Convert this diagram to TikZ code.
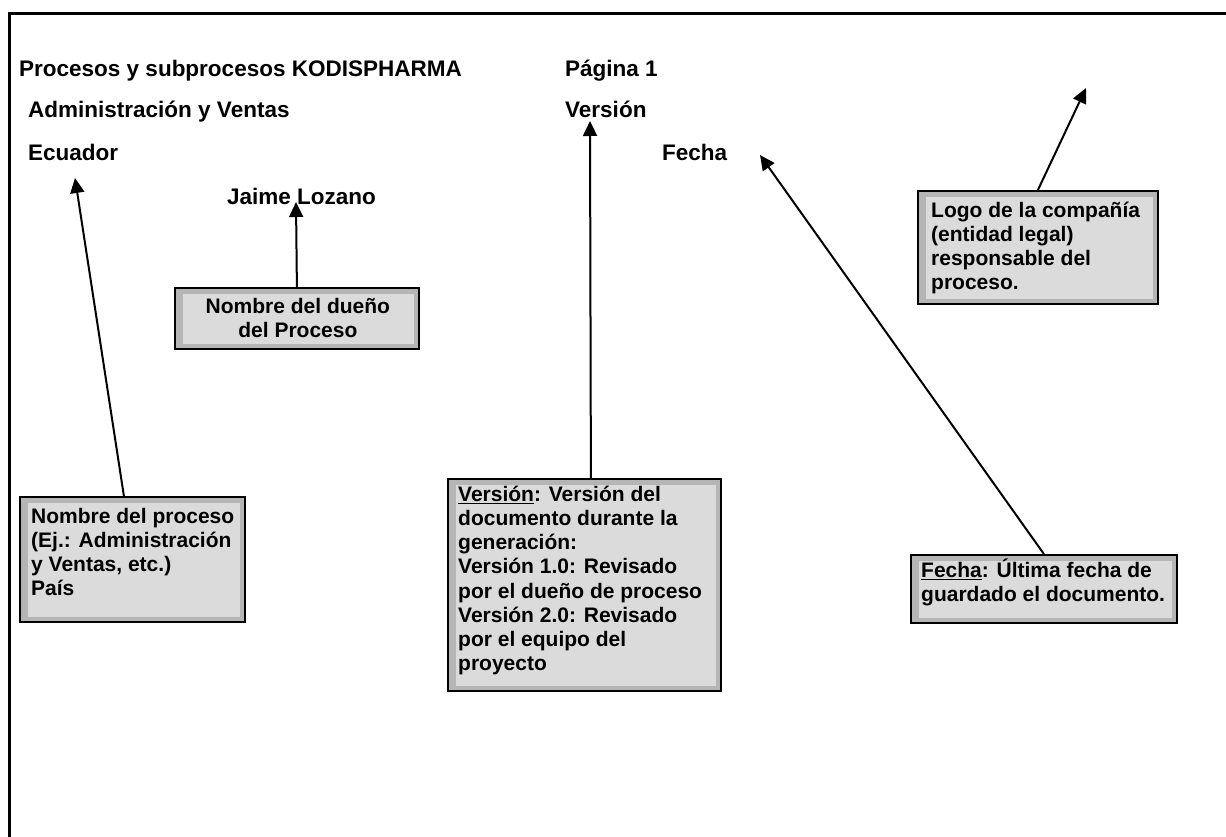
\documentclass[tikz,border=0pt]{standalone}
\usepackage{fontspec}
\setmainfont{Liberation Sans}
\usetikzlibrary{arrows.meta}
\definecolor{boxband}{gray}{0.71}
\definecolor{boxfill}{gray}{0.86}
% invisible strut that fixes the top of the first line in a box text
\newcommand{\firstline}{\rule{0pt}{20pt}}
\begin{document}
\begin{tikzpicture}[x=1pt,y=-1pt,
  heading/.style={anchor=base west, inner sep=0pt,
    font=\fontsize{22.5}{27}\selectfont\bfseries},
  notebox/.style={draw=black, line width=1.8pt, fill=boxband, anchor=north west,
    inner sep=0pt,
    path picture={\fill[boxfill]
      ([xshift=8pt,yshift=-6pt]path picture bounding box.north west) rectangle
      ([xshift=-5pt,yshift=5pt]path picture bounding box.south east);}},
  boxtext/.style={anchor=north west, inner sep=0pt, align=left,
    font=\fontsize{21}{24.2}\selectfont\bfseries},
  pointer/.style={line width=2pt, -{Triangle[length=15pt,width=14pt]}}
]
\useasboundingbox (0,0) rectangle (1226,837);
\fill[white] (0,0) rectangle (1226,837);

% page frame (top and left edges)
\draw[line width=3pt] (9,837) -- (9,14) -- (1226,14);

% header fields
\node[heading] (title)   at (19,77)   {Procesos y subprocesos KODISPHARMA};
\node[heading] (page)    at (565,77)  {Página 1};
\node[heading] (area)    at (28,118)  {Administración y Ventas};
\node[heading] (ver)     at (565,118) {Versión};
\node[heading] (country) at (28,161)  {Ecuador};
\node[heading] (date)    at (662,161) {Fecha};
\node[heading] (owner)   at (227,205) {Jaime Lozano};

% explanation boxes
\node[notebox, minimum width=244, minimum height=61] (ownerbox) at (174,287) {};
\node[boxtext, anchor=north, align=center] (ownertxt) at ([shift={(1,6)}]ownerbox.north)
  {\firstline Nombre del dueño\\del Proceso};

\node[notebox, minimum width=225, minimum height=125] (procbox) at (19,496) {};
\node[boxtext] (proctxt) at ([shift={(12,7)}]procbox.north west)
  {\firstline Nombre del proceso\\(Ej.: Administración\\y Ventas, etc.)\\País};

\node[notebox, minimum width=273, minimum height=212] (verbox) at (447,478) {};
\node[boxtext] (vertxt) at ([shift={(11,3)}]verbox.north west)
  {\firstline\underline{Versión}: Versión del\\documento durante la\\generación:\\Versión 1.0: Revisado\\por el dueño de proceso\\Versión 2.0: Revisado\\por el equipo del\\proyecto};

\node[notebox, minimum width=266, minimum height=68] (datebox) at (910,554) {};
\node[boxtext] (datetxt) at ([shift={(11,3)}]datebox.north west)
  {\firstline\underline{Fecha}: Última fecha de\\guardado el documento.};

\node[notebox, minimum width=240, minimum height=113] (logobox) at (917,190) {};
\node[boxtext] (logotxt) at ([shift={(14,7)}]logobox.north west)
  {\firstline Logo de la compañía\\(entidad legal)\\responsable del\\proceso.};

% pointer tips
\coordinate (countrytip) at (75,178);
\coordinate (ownertip)   at (296,202);
\coordinate (vertip)     at (590,121);
\coordinate (datetip)    at (760,155);
\coordinate (logotip)    at (1086,88);

% pointers
\draw[pointer] ([xshift=-8.5pt]procbox.north) -- (countrytip);
\draw[pointer] (ownerbox.north) -- (ownertip);
\draw[pointer] ([xshift=6.5pt]verbox.north) -- (vertip);
\draw[pointer] (datebox.north) -- (datetip);
\draw[pointer] (logobox.north) -- (logotip);
\end{tikzpicture}
\end{document}
